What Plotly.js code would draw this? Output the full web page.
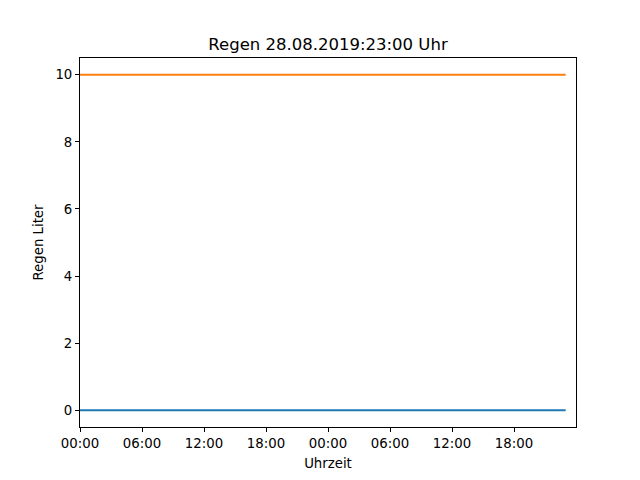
<!DOCTYPE html>
<html>
<head>
<meta charset="utf-8">
<script src="https://cdn.plot.ly/plotly-3.0.1.min.js"></script>
<style>html,body{margin:0;padding:0;background:#fff}#chart{width:640px;height:480px}</style>
</head>
<body>
<div id="chart"></div>
<script>
const times = [
  "2019-08-27 00:00","2019-08-27 01:00","2019-08-27 02:00","2019-08-27 03:00","2019-08-27 04:00","2019-08-27 05:00",
  "2019-08-27 06:00","2019-08-27 07:00","2019-08-27 08:00","2019-08-27 09:00","2019-08-27 10:00","2019-08-27 11:00",
  "2019-08-27 12:00","2019-08-27 13:00","2019-08-27 14:00","2019-08-27 15:00","2019-08-27 16:00","2019-08-27 17:00",
  "2019-08-27 18:00","2019-08-27 19:00","2019-08-27 20:00","2019-08-27 21:00","2019-08-27 22:00","2019-08-27 23:00",
  "2019-08-28 00:00","2019-08-28 01:00","2019-08-28 02:00","2019-08-28 03:00","2019-08-28 04:00","2019-08-28 05:00",
  "2019-08-28 06:00","2019-08-28 07:00","2019-08-28 08:00","2019-08-28 09:00","2019-08-28 10:00","2019-08-28 11:00",
  "2019-08-28 12:00","2019-08-28 13:00","2019-08-28 14:00","2019-08-28 15:00","2019-08-28 16:00","2019-08-28 17:00",
  "2019-08-28 18:00","2019-08-28 19:00","2019-08-28 20:00","2019-08-28 21:00","2019-08-28 22:00","2019-08-28 23:00"
];
const regen = [
  0,0,0,0,0,0,0,0,0,0,0,0,0,0,0,0,0,0,0,0,0,0,0,0,
  0,0,0,0,0,0,0,0,0,0,0,0,0,0,0,0,0,0,0,0,0,0,0,0
];
const limit = [
  10,10,10,10,10,10,10,10,10,10,10,10,10,10,10,10,10,10,10,10,10,10,10,10,
  10,10,10,10,10,10,10,10,10,10,10,10,10,10,10,10,10,10,10,10,10,10,10,10
];
const xTickVals = [
  "2019-08-27 00:00","2019-08-27 06:00","2019-08-27 12:00","2019-08-27 18:00",
  "2019-08-28 00:00","2019-08-28 06:00","2019-08-28 12:00","2019-08-28 18:00"
];
const xTickText = ["00:00","06:00","12:00","18:00","00:00","06:00","12:00","18:00"];
const yTicks = [0, 2, 4, 6, 8, 10];
const titleText = "Regen 28.08.2019:23:00 Uhr";

const font = {family: "DejaVu Sans", size: 13.3, color: "#000"};
const traces = [
  {x: times, y: regen, type: "scatter", mode: "lines", line: {color: "#1f77b4", width: 2}, showlegend: false},
  {x: times, y: limit, type: "scatter", mode: "lines", line: {color: "#ff7f0e", width: 2}, showlegend: false}
];
const layout = {
  width: 640, height: 480,
  margin: {l: 80, r: 64, t: 58, b: 53, pad: 0},
  paper_bgcolor: "#fff", plot_bgcolor: "#fff",
  font: font,
  title: {text: titleText, font: {family: "DejaVu Sans", size: 16.5, color: "#000"},
          x: 0.5, xref: "paper", y: 1, yref: "paper", yanchor: "bottom", pad: {b: 8}},
  xaxis: {
    type: "date", range: ["2019-08-27 00:00", "2019-08-29 00:00"],
    tickmode: "array", tickvals: xTickVals, ticktext: xTickText,
    ticks: "outside", ticklen: 4, tickwidth: 1, tickcolor: "#000",
    showline: true, linecolor: "#000", linewidth: 1, mirror: true,
    showgrid: false, zeroline: false, tickfont: font,
    title: {text: "Uhrzeit", font: font, standoff: 8}
  },
  yaxis: {
    range: [-0.5, 10.5], tickmode: "array", tickvals: yTicks,
    ticks: "outside", ticklen: 4, tickwidth: 1, tickcolor: "#000",
    showline: true, linecolor: "#000", linewidth: 1, mirror: true,
    showgrid: false, zeroline: false, tickfont: font,
    title: {text: "Regen Liter", font: font, standoff: 8}
  }
};
Plotly.newPlot("chart", traces, layout, {displayModeBar: false, staticPlot: true});
</script>
</body>
</html>
